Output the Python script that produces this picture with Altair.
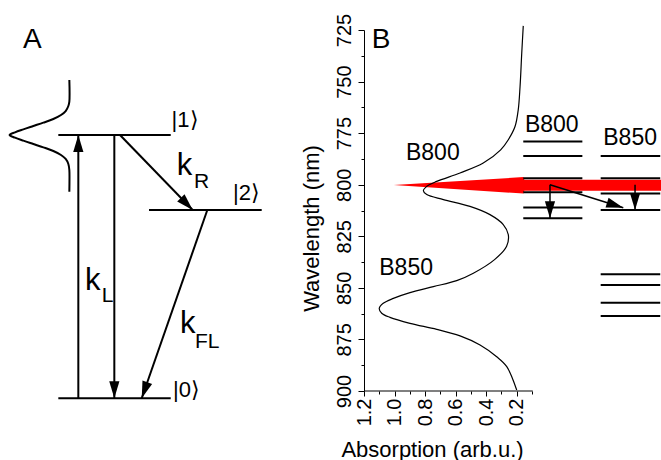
import math
import altair as alt
import pandas as pd

FONT = "Liberation Sans"

# ---------------- Panel B: absorption spectrum ----------------
spec_wl = [723.0, 736.3, 752.4, 763.7, 771.8, 778.2, 783.1, 789.5, 794.3, 798.4,
           800.8, 802.9, 804.8, 807.2, 810.5, 814.5, 819.3, 824.2, 829.8, 836.3,
           842.9, 846.5, 849.4, 852.3, 855.1, 857.5, 859.9, 862.3, 864.3, 867.2,
           870.1, 873.3, 877.7, 883.4, 888.2, 899.5]
spec_abs = [0.157, 0.167, 0.178, 0.190, 0.211, 0.255, 0.305, 0.419, 0.571, 0.724,
            0.789, 0.811, 0.789, 0.680, 0.506, 0.375, 0.288, 0.255, 0.266, 0.345,
            0.484, 0.593, 0.746, 0.899, 1.008, 1.074, 1.100, 1.084, 1.030, 0.899,
            0.724, 0.571, 0.440, 0.331, 0.265, 0.200]

# exciton level ladders (wavelength, nm) and their horizontal extent (absorption units)
b800_levels = [779.1, 786.1, 796.9, 803.6, 811.0, 816.3]
b850_levels = [786.1, 796.9, 804.2, 812.3, 843.4, 848.6, 857.2, 863.6]
b800_span = [0.157, -0.23]
b850_span = [-0.35, -0.74]

# laser excitation (red arrow): position and lower/upper wavelength edge
laser_x = [1.005, 0.155, 0.150, -0.745]
laser_lo = [800.15, 796.3, 797.6, 797.6]
laser_hi = [800.15, 804.3, 802.9, 802.9]

# relaxation arrows in B
b_arrow_x0 = [-0.018, -0.018, -0.575]
b_arrow_y0 = [800.0, 800.0, 800.0]
b_arrow_x1 = [-0.018, -0.498, -0.575]
b_arrow_y1 = [816.3, 811.2, 812.3]

b_text = ["B", "B800", "B850", "B800", "B850"]
b_text_x = [1.15, 0.925, 1.10, 0.146, -0.367]
b_text_y = [733.9, 788.0, 843.8, 774.3, 780.7]
b_text_size = [28, 23, 23, 23, 23]

x_major = [1.2, 1.0, 0.8, 0.6, 0.4, 0.2]
x_minor = [1.1, 0.9, 0.7, 0.5, 0.3, 0.1]
y_major = [725, 750, 775, 800, 825, 850, 875, 900]
y_minor = [737.5, 762.5, 787.5, 812.5, 837.5, 862.5, 887.5]

# ---------------- Panel A: level scheme (diagram units) ----------------
a_level_E = [0.0, 10.0, 7.15]
a_level_x0 = [1.767, 1.767, 4.515]
a_level_x1 = [5.173, 5.173, 7.93]

a_arrow_x0 = [2.373, 3.464, 3.636, 6.282]
a_arrow_E0 = [0.0, 10.0, 10.0, 7.15]
a_arrow_x1 = [2.373, 3.464, 5.839, 4.294]
a_arrow_E1 = [10.0, 0.0, 7.15, 0.0]

gauss_u = [2.101, 2.101, 2.071, 1.99, 1.848, 1.616, 1.313, 1.01, 0.707, 0.455, 0.290,
           0.455, 0.707, 1.01, 1.313, 1.616, 1.848, 1.99, 2.071, 2.101, 2.101]
gauss_E = [12.089, 11.266, 11.101, 10.911, 10.76, 10.608, 10.468, 10.342, 10.215, 10.101, 10.0,
           9.899, 9.785, 9.658, 9.532, 9.392, 9.24, 9.089, 8.899, 8.671, 7.848]

a_text = ["A", "|1⟩", "|2⟩", "|0⟩", "k", "L", "k", "R", "k", "FL"]
a_text_x = [0.697, 5.20, 7.06, 5.24, 2.576, 3.08, 5.354, 5.88, 5.455, 5.909]
a_text_y = [13.30, 10.31, 7.535, 0.05, 4.11, 3.66, 8.48, 7.98, 2.469, 1.90]
a_text_size = [28, 22, 22, 22, 31, 21, 31, 21, 31, 21]

# ---------------- scales ----------------
W, H = 297, 361
XB_DOM = [-0.745, 1.2]
YB_DOM = [725, 900]
XA_DOM = [11.03, 20.03]
YA_DOM = [0.277, 13.988]

XB = alt.Scale(domain=XB_DOM, reverse=True, nice=False, zero=False)
YB = alt.Scale(domain=YB_DOM, reverse=True, nice=False, zero=False)
XA = alt.Scale(domain=XA_DOM, nice=False, zero=False)
YA = alt.Scale(domain=YA_DOM, nice=False, zero=False)

PXB = W / (XB_DOM[1] - XB_DOM[0])
PYB = H / (YB_DOM[1] - YB_DOM[0])
PXA = W / (XA_DOM[1] - XA_DOM[0])
PYA = H / (YA_DOM[1] - YA_DOM[0])


def head_angle(dx, dy):
    a = math.degrees(math.atan2(-dx, dy)) % 360
    return round(a, 2) + 0.0


HEAD = "M0,0L-0.6,-2L0.6,-2Z"

# ---------------- data frames ----------------
spec_df = pd.DataFrame({"i": range(len(spec_wl)), "wl": spec_wl, "abs": spec_abs})
laser_df = pd.DataFrame({"x": laser_x, "lo": laser_lo, "hi": laser_hi})
lev_rows = [{"x0": b800_span[0], "x1": b800_span[1], "wl": w} for w in b800_levels] + \
           [{"x0": b850_span[0], "x1": b850_span[1], "wl": w} for w in b850_levels]
lev_df = pd.DataFrame(lev_rows)
barr_df = pd.DataFrame({"x0": b_arrow_x0, "y0": b_arrow_y0, "x1": b_arrow_x1, "y1": b_arrow_y1})
barr_df["ang"] = [head_angle(-(r.x1 - r.x0) * PXB, (r.y1 - r.y0) * PYB) for r in barr_df.itertuples()]
btext_df = pd.DataFrame({"t": b_text, "x": b_text_x, "y": b_text_y, "fs": b_text_size})
xdom_df = pd.DataFrame({"x0": [x_major[0]], "x1": [x_minor[-1] - 0.005], "y": [YB_DOM[1]]})

alev_df = pd.DataFrame({"x0": a_level_x0, "x1": a_level_x1, "E": a_level_E})
aarr_df = pd.DataFrame({"x0": a_arrow_x0, "y0": a_arrow_E0, "x1": a_arrow_x1, "y1": a_arrow_E1})
aarr_df["ang"] = [head_angle((r.x1 - r.x0) * PXA, -(r.y1 - r.y0) * PYA) for r in aarr_df.itertuples()]
gauss_df = pd.DataFrame({"i": range(len(gauss_u)), "u": gauss_u, "E": gauss_E})
atext_df = pd.DataFrame({"t": a_text, "x": a_text_x, "y": a_text_y, "fs": a_text_size})

# ---------------- axes ----------------
y_axis = alt.Axis(values=y_major, orient="left", format="d", labelAngle=270, labelAlign="center",
                  labelBaseline="alphabetic", labelFontSize=20, labelPadding=8, labelFlush=False,
                  labelOverlap=False, tickSize=6, tickWidth=1, domainWidth=1, grid=False,
                  title="Wavelength (nm)", titleFontSize=22, titleFontWeight="normal", titleAngle=270,
                  titleAlign="center", titleBaseline="alphabetic", titleX=-46, titleY=198)
x_axis = alt.Axis(values=x_major, orient="bottom", format=".1f", labelAngle=270, labelAlign="right",
                  labelBaseline="middle", labelFontSize=20, labelPadding=2, labelFlush=False,
                  labelOverlap=False, tickSize=5, tickWidth=1, domain=False, grid=False,
                  title="Absorption (arb.u.)", titleFontSize=22, titleFontWeight="normal",
                  titleAlign="center", titleBaseline="alphabetic", titleX=68, titleY=65)
y_minor_axis = alt.Axis(values=y_minor, orient="left", labels=False, domain=False, tickSize=3,
                        tickWidth=1, grid=False, title="")
x_minor_axis = alt.Axis(values=x_minor, orient="bottom", labels=False, domain=False, tickSize=3,
                        tickWidth=1, grid=False, title="")


def xb(f, axis=None):
    if axis is None:
        return alt.X(f, type="quantitative", scale=XB, axis=None)
    return alt.X(f, type="quantitative", scale=XB, axis=axis)


def yb(f, axis=None):
    if axis is None:
        return alt.Y(f, type="quantitative", scale=YB, axis=None)
    return alt.Y(f, type="quantitative", scale=YB, axis=axis)


def xa(f):
    return alt.X(f, type="quantitative", scale=XA, axis=None)


def ya(f):
    return alt.Y(f, type="quantitative", scale=YA, axis=None)


# ---------------- layers: panel B ----------------
laser = alt.Chart(laser_df).mark_area(color="#ff0000", opacity=1).encode(
    x=xb("x"), y=yb("lo"), y2="hi")

curve = alt.Chart(spec_df).mark_line(color="black", strokeWidth=1.2, interpolate="catmull-rom").encode(
    x=xb("abs", x_axis), y=yb("wl", y_axis), order=alt.Order("i:Q"))

minor = alt.Chart(spec_df).mark_point(opacity=0).encode(
    x=xb("abs", x_minor_axis), y=yb("wl", y_minor_axis))

xdom = alt.Chart(xdom_df).mark_rule(color="black", strokeWidth=1).encode(
    x=xb("x0"), x2="x1", y=yb("y"))

levels = alt.Chart(lev_df).mark_rule(color="black", strokeWidth=2).encode(
    x=xb("x0"), x2="x1", y=yb("wl"))

b_shafts = alt.Chart(barr_df).mark_rule(color="black", strokeWidth=1.5).encode(
    x=xb("x0"), x2="x1", y=yb("y0"), y2="y1")
b_heads = alt.Chart(barr_df).mark_point(shape=HEAD, filled=True, size=289, opacity=1, color="black").encode(
    x=xb("x1"), y=yb("y1"), angle=alt.Angle("ang:Q", scale=None))

b_texts = alt.Chart(btext_df).mark_text(font=FONT, align="left", baseline="alphabetic", color="black").encode(
    x=xb("x"), y=yb("y"), text="t:N", size=alt.Size("fs:Q", scale=None))

# ---------------- layers: panel A ----------------
a_levels = alt.Chart(alev_df).mark_rule(color="black", strokeWidth=2).encode(
    x=xa("x0"), x2="x1", y=ya("E"))
a_shafts = alt.Chart(aarr_df).mark_rule(color="black", strokeWidth=2).encode(
    x=xa("x0"), x2="x1", y=ya("y0"), y2="y1")
a_heads = alt.Chart(aarr_df).mark_point(shape=HEAD, filled=True, size=289, opacity=1, color="black").encode(
    x=xa("x1"), y=ya("y1"), angle=alt.Angle("ang:Q", scale=None))
gauss = alt.Chart(gauss_df).mark_line(color="black", strokeWidth=2, interpolate="catmull-rom").encode(
    x=xa("u"), y=ya("E"), order=alt.Order("i:Q"))
a_texts = alt.Chart(atext_df).mark_text(font=FONT, align="left", baseline="alphabetic", color="black").encode(
    x=xa("x"), y=ya("y"), text="t:N", size=alt.Size("fs:Q", scale=None))

chart = alt.layer(
    laser, curve, minor, xdom, levels, b_shafts, b_heads, b_texts,
    a_levels, a_shafts, a_heads, gauss, a_texts,
).resolve_scale(x="independent", y="independent").properties(
    width=W, height=H,
    padding={"left": 364, "top": 30, "right": 0, "bottom": 69},
    autosize=alt.AutoSizeParams(type="none"),
).configure_view(strokeWidth=0).configure_axis(
    labelFont=FONT, titleFont=FONT, labelColor="black", titleColor="black",
    tickColor="black", domainColor="black",
)

chart.save("out.html", embed_options={"renderer": "svg", "actions": False})
